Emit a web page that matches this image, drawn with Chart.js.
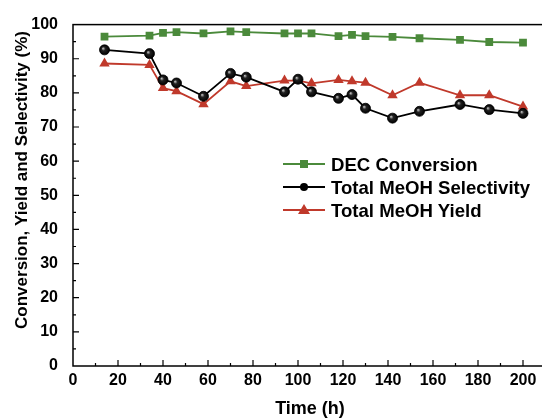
<!DOCTYPE html>
<html>
<head>
<meta charset="utf-8">
<script src="https://cdn.jsdelivr.net/npm/chart.js@4.4.1/dist/chart.umd.min.js"></script>
<style>
  html, body { margin: 0; padding: 0; background: #fff; overflow: hidden; }
  #wrap { position: relative; width: 542px; height: 419px; overflow: hidden; }
  #chart { position: absolute; left: 0; top: 0; }
  .legend { position: absolute; left: 283px; font: bold 18.6px "Liberation Sans", Arial, sans-serif; color: #000; }
  .legend div { position: absolute; left: 0; height: 22px; line-height: 22px; white-space: nowrap; }
  .legend canvas { vertical-align: middle; margin-right: 6px; position: relative; top: -2px; }
</style>
</head>
<body>
<div id="wrap">
  <canvas id="chart" width="560" height="419"></canvas>
  <div class="legend" id="legend"></div>
</div>
<script>
// Tid (h)
const times = [14, 34, 40, 46, 58, 70, 77, 94, 100, 106, 118, 124, 130, 142, 154, 172, 185, 200];
// DEC-omvandling (%)
const decConversion = [96.5, 96.8, 97.6, 97.8, 97.4, 98.0, 97.8, 97.4, 97.4, 97.4, 96.6, 97.0, 96.6, 96.4, 96.0, 95.5, 94.9, 94.7];
// Total MeOH-selektivitet (%)
const meohSelectivity = [92.6, 91.5, 83.8, 82.9, 79.0, 85.7, 84.6, 80.3, 84.0, 80.3, 78.4, 79.5, 75.5, 72.6, 74.6, 76.6, 75.1, 74.0];
// Total MeOH-utbyte (%)
const meohYield = [88.6, 88.2, 81.4, 80.5, 76.7, 83.4, 82.0, 83.6, 83.6, 82.8, 83.8, 83.4, 83.0, 79.3, 83.0, 79.3, 79.3, 76.0];

const xTicks = [0, 20, 40, 60, 80, 100, 120, 140, 160, 180, 200];
const yTicks = [0, 10, 20, 30, 40, 50, 60, 70, 80, 90, 100];
const seriesNames = ['DEC Conversion', 'Total MeOH Selectivity', 'Total MeOH Yield'];

const green = '#4b8a3b';
const red = '#c0392b';
const fontFamily = '"Liberation Sans", Arial, sans-serif';

function toPoints(values) {
    return times.map((t, i) => ({ x: t, y: values[i] }));
}

// Svart kula med liten ljusreflex, som i originalet
function ballFill(context) {
    const chart = context.chart;
    if (!context.parsed || !chart.scales.x || !chart.scales.y) return '#111';
    const px = chart.scales.x.getPixelForValue(context.parsed.x);
    const py = chart.scales.y.getPixelForValue(context.parsed.y);
    if (!Number.isFinite(px) || !Number.isFinite(py)) return '#111';
    const g = chart.ctx.createRadialGradient(px - 1.5, py - 1.5, 0.3, px, py, 5);
    g.addColorStop(0, '#bbbbbb');
    g.addColorStop(0.35, '#222222');
    g.addColorStop(1, '#000000');
    return g;
}

// Plugin som ritar ram, inåtvända tick-markeringar och axeltitlar
const frameAndTicks = {
    id: 'frameAndTicks',
    beforeDatasetsDraw(chart) {
        const ctx = chart.ctx;
        const area = chart.chartArea;
        const xs = chart.scales.x;
        const ys = chart.scales.y;
        ctx.save();
        ctx.strokeStyle = '#000';
        ctx.lineWidth = 1.5;
        ctx.strokeRect(area.left, area.top, area.right - area.left, area.bottom - area.top);

        ctx.lineWidth = 1.2;
        ctx.beginPath();
        for (let v = 10; v <= 200; v += 10) {
            const px = xs.getPixelForValue(v);
            const len = v % 20 === 0 ? 6 : 3;
            ctx.moveTo(px, area.bottom);
            ctx.lineTo(px, area.bottom - len);
        }
        for (let v = 5; v < 100; v += 5) {
            const py = ys.getPixelForValue(v);
            const len = v % 10 === 0 ? 6 : 3;
            ctx.moveTo(area.left, py);
            ctx.lineTo(area.left + len, py);
        }
        ctx.stroke();
        ctx.restore();
    },
    afterDraw(chart) {
        const ctx = chart.ctx;
        ctx.save();
        ctx.fillStyle = '#000';
        ctx.textAlign = 'center';
        ctx.textBaseline = 'middle';
        ctx.font = 'bold 18px ' + fontFamily;
        ctx.fillText('Time (h)', 310, 409);
        ctx.translate(22, 180);
        ctx.rotate(-Math.PI / 2);
        ctx.font = 'bold 17px ' + fontFamily;
        ctx.fillText('Conversion, Yield and Selectivity (%)', 0, 0);
        ctx.restore();
    }
};

new Chart(document.getElementById('chart'), {
    type: 'line',
    data: {
        datasets: [
            {
                label: seriesNames[0],
                data: toPoints(decConversion),
                borderColor: green,
                backgroundColor: green,
                borderWidth: 1.8,
                pointStyle: 'rect',
                pointRadius: 5.5,
                pointBorderWidth: 0,
                pointBackgroundColor: green
            },
            {
                label: seriesNames[1],
                data: toPoints(meohSelectivity),
                borderColor: '#000',
                backgroundColor: '#000',
                borderWidth: 1.8,
                pointStyle: 'circle',
                pointRadius: 5,
                pointBorderWidth: 0.8,
                pointBorderColor: '#000',
                pointBackgroundColor: ballFill
            },
            {
                label: seriesNames[2],
                data: toPoints(meohYield),
                borderColor: red,
                backgroundColor: red,
                borderWidth: 1.8,
                pointStyle: 'triangle',
                pointRadius: 6,
                pointBorderWidth: 0,
                pointBackgroundColor: red
            }
        ]
    },
    options: {
        responsive: false,
        animation: false,
        layout: { padding: { top: 19, right: 14.5, left: 0, bottom: 0 } },
        plugins: {
            legend: { display: false },
            tooltip: { enabled: false }
        },
        scales: {
            x: {
                type: 'linear',
                min: 0,
                max: 210,
                afterBuildTicks: scale => { scale.ticks = xTicks.map(v => ({ value: v })); },
                afterFit: scale => { scale.height = 53; },
                grid: { display: false, drawTicks: false },
                border: { display: false },
                ticks: {
                    padding: 5,
                    maxRotation: 0,
                    color: '#000',
                    font: { family: fontFamily, size: 16, weight: 'bold' }
                }
            },
            y: {
                min: 0,
                max: 100,
                afterBuildTicks: scale => { scale.ticks = yTicks.map(v => ({ value: v })); },
                afterFit: scale => { scale.width = 73; },
                grid: { display: false, drawTicks: false },
                border: { display: false },
                ticks: {
                    padding: 15,
                    color: '#000',
                    font: { family: fontFamily, size: 16, weight: 'bold' }
                }
            }
        }
    },
    plugins: [frameAndTicks]
});

// Legend i HTML med små canvas-symboler (linje + markör)
const legendStyles = [
    { color: green, marker: 'rect' },
    { color: '#000', marker: 'circle' },
    { color: red, marker: 'triangle' }
];
const legendRows = [165, 188, 211];
const legendEl = document.getElementById('legend');
seriesNames.forEach((name, i) => {
    const row = document.createElement('div');
    row.style.top = (legendRows[i] - 11) + 'px';
    const sw = document.createElement('canvas');
    sw.width = 42;
    sw.height = 14;
    const c = sw.getContext('2d');
    const st = legendStyles[i];
    c.strokeStyle = st.color;
    c.fillStyle = st.color;
    c.lineWidth = 1.8;
    c.beginPath();
    c.moveTo(0, 7);
    c.lineTo(42, 7);
    c.stroke();
    c.beginPath();
    if (st.marker === 'rect') {
        c.fillRect(17, 3, 8, 8);
    } else if (st.marker === 'circle') {
        c.arc(21, 7, 4, 0, Math.PI * 2);
        c.fill();
    } else {
        c.moveTo(21, 1);
        c.lineTo(27, 11);
        c.lineTo(15, 11);
        c.closePath();
        c.fill();
    }
    row.appendChild(sw);
    row.appendChild(document.createTextNode(name));
    legendEl.appendChild(row);
});
</script>
</body>
</html>
